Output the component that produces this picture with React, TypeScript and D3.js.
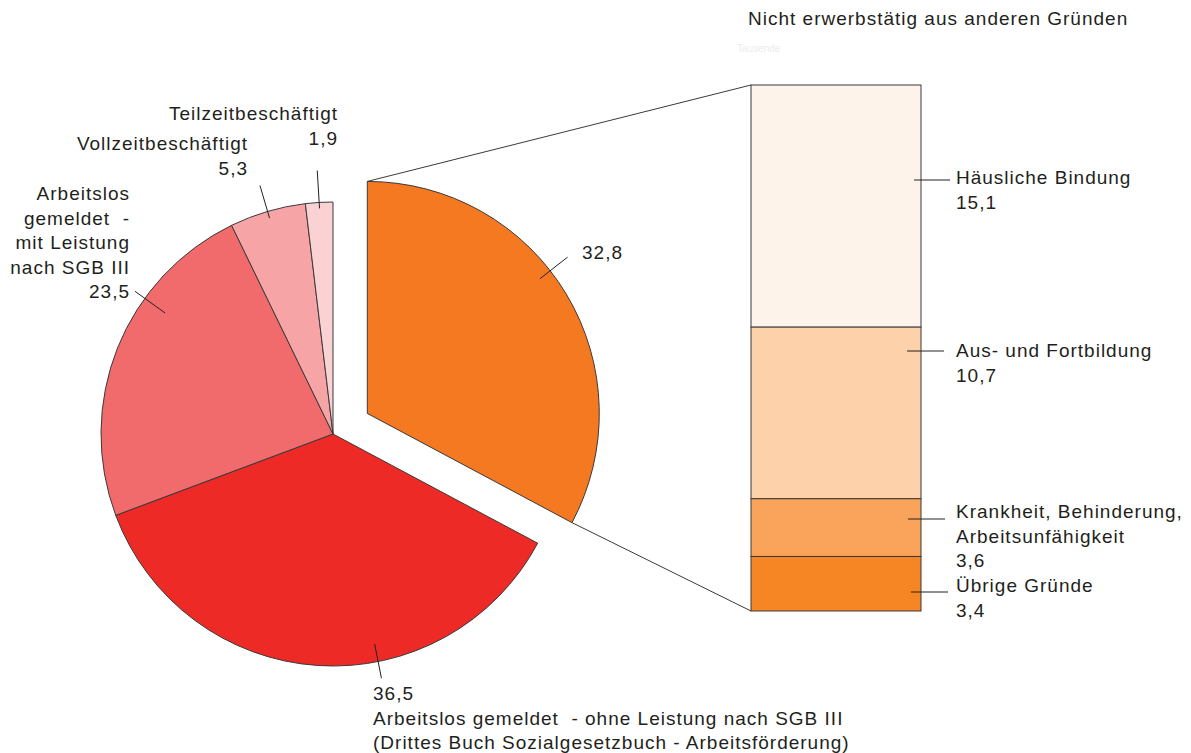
import React from "react";
import * as d3 from "d3";

// ---- data ----
const pieLabels = [
  "Nicht erwerbstätig aus anderen Gründen",
  "Arbeitslos gemeldet - ohne Leistung nach SGB III",
  "Arbeitslos gemeldet - mit Leistung nach SGB III",
  "Vollzeitbeschäftigt",
  "Teilzeitbeschäftigt",
];
const pieValues = [32.8, 36.5, 23.5, 5.3, 1.9];
const pieColors = ["#F47920", "#EE2A26", "#F16B6C", "#F6A4A6", "#FBD2D4"];

const barLabels = ["Häusliche Bindung", "Aus- und Fortbildung", "Krankheit, Behinderung, Arbeitsunfähigkeit", "Übrige Gründe"];
const barValues = [15.1, 10.7, 3.6, 3.4];
const barColors = ["#FEF3EA", "#FDD1AA", "#F9A45A", "#F68623"];

const fmt = (v: number) => v.toFixed(1).replace(".", ",");

// ---- layout ----
const W = 1191, H = 753;
const cx = 333, cy = 434, R = 232, explode = 40;
const barX0 = 751, barX1 = 921, barY0 = 85, barY1 = 611;
const FONT = "'Liberation Sans', Arial, sans-serif";
const FS = 19;
const LS = 1;
const TXT = "#231f20";
const STROKE = "#3a3a3a";

// per-slice leader settings: angle tweak (deg), r1, r2, label anchor and lines
const pieLeader = [
  { dAng: -7, r1: 219, r2: 254, x: 582, y: 259, anchor: "start", lines: (v: string) => [v] },
  { dAng: -15, r1: 214, r2: 249, x: 373, y: 700, anchor: "start", lines: (v: string) => [v, "Arbeitslos gemeldet  - ohne Leistung nach SGB III", "(Drittes Buch Sozialgesetzbuch - Arbeitsförderung)"] },
  { dAng: 14, r1: 207, r2: 244, x: 130, y: 200, anchor: "end", lines: (v: string) => ["Arbeitslos", "gemeldet  -", "mit Leistung", "nach SGB III", v] },
  { dAng: 0, r1: 225, r2: 259, x: 248, y: 150, anchor: "end", lines: (v: string) => ["Vollzeitbeschäftigt", v] },
  { dAng: 0, r1: 226, r2: 264, x: 338, y: 120, anchor: "end", lines: (v: string) => ["Teilzeitbeschäftigt", v] },
];

const barLeader = [
  { x1: 914, x2: 950, ty: 184, lines: (v: string) => ["Häusliche Bindung", v] },
  { x1: 907, x2: 944, ty: 357, lines: (v: string) => ["Aus- und Fortbildung", v] },
  { x1: 908, x2: 945, ty: 518, lines: (v: string) => ["Krankheit, Behinderung,", "Arbeitsunfähigkeit", v] },
  { x1: 911, x2: 948, ty: 592, lines: (v: string) => ["Übrige Gründe", v] },
];
const barLeaderY = [180, 351, 519, 592];

export default function App() {
  const pie = d3.pie<number>().sort(null).value((d) => d)(pieValues);
  const arc = d3.arc<d3.PieArcDatum<number>>().innerRadius(0).outerRadius(R);

  const offsetOf = (i: number) => {
    if (i !== 0) return [0, 0];
    const a = (pie[0].startAngle + pie[0].endAngle) / 2;
    return [explode * Math.sin(a), -explode * Math.cos(a)];
  };

  const [ox, oy] = offsetOf(0);
  const ecx = cx + ox, ecy = cy + oy;
  const p0 = [ecx + R * Math.sin(pie[0].startAngle), ecy - R * Math.cos(pie[0].startAngle)];
  const p1 = [ecx + R * Math.sin(pie[0].endAngle), ecy - R * Math.cos(pie[0].endAngle)];

  const total = d3.sum(barValues);
  const y = d3.scaleLinear().domain([0, total]).range([barY0, barY1]);
  const cum = d3.cumsum(barValues);

  const textProps = { fontFamily: FONT, fontSize: FS, fill: TXT, letterSpacing: LS } as any;

  return (
    <svg width={W} height={H} style={{ position: "absolute", left: 0, top: 0, background: "#fff" }}>
      <text x={748} y={25} {...textProps}>Nicht erwerbstätig aus anderen Gründen</text>
      <text x={737} y={52} fontFamily={FONT} fontSize={10} fill="#ececec">Tausende</text>

      {/* connector lines */}
      <line x1={p0[0]} y1={p0[1]} x2={barX0} y2={y(0)} stroke={STROKE} strokeWidth={1} />
      <line x1={p1[0]} y1={p1[1]} x2={barX0} y2={y(total)} stroke={STROKE} strokeWidth={1} />

      {pie.map((d, i) => {
        const [dx, dy] = offsetOf(i);
        return (
          <path key={i} d={arc(d) || ""} transform={`translate(${cx + dx},${cy + dy})`}
            fill={pieColors[i]} stroke={STROKE} strokeWidth={1} strokeLinejoin="round" />
        );
      })}

      {pie.map((d, i) => {
        const [dx, dy] = offsetOf(i);
        const L = pieLeader[i];
        const a = (d.startAngle + d.endAngle) / 2 + (L.dAng * Math.PI) / 180;
        const ccx = cx + dx, ccy = cy + dy;
        return (
          <g key={"l" + i}>
            <line x1={ccx + L.r1 * Math.sin(a)} y1={ccy - L.r1 * Math.cos(a)}
              x2={ccx + L.r2 * Math.sin(a)} y2={ccy - L.r2 * Math.cos(a)} stroke="#222" strokeWidth={1} />
            <text {...textProps} textAnchor={L.anchor}>
              {L.lines(fmt(pieValues[i])).map((s, k) => (
                <tspan key={k} x={L.x} y={L.y + k * 24.5} style={{ whiteSpace: "pre" }}>{s}</tspan>
              ))}
            </text>
          </g>
        );
      })}

      {barValues.map((v, i) => {
        const yTop = y(cum[i] - v);
        const yBot = y(cum[i]);
        const L = barLeader[i];
        return (
          <g key={"b" + i}>
            <rect x={barX0} y={yTop} width={barX1 - barX0} height={yBot - yTop} fill={barColors[i]} stroke={STROKE} strokeWidth={1} />
            <line x1={L.x1} x2={L.x2} y1={barLeaderY[i]} y2={barLeaderY[i]} stroke="#222" strokeWidth={1} />
            <text {...textProps}>
              {L.lines(fmt(v)).map((s, k) => (
                <tspan key={k} x={956} y={L.ty + k * 24.5}>{s}</tspan>
              ))}
            </text>
          </g>
        );
      })}
    </svg>
  );
}
